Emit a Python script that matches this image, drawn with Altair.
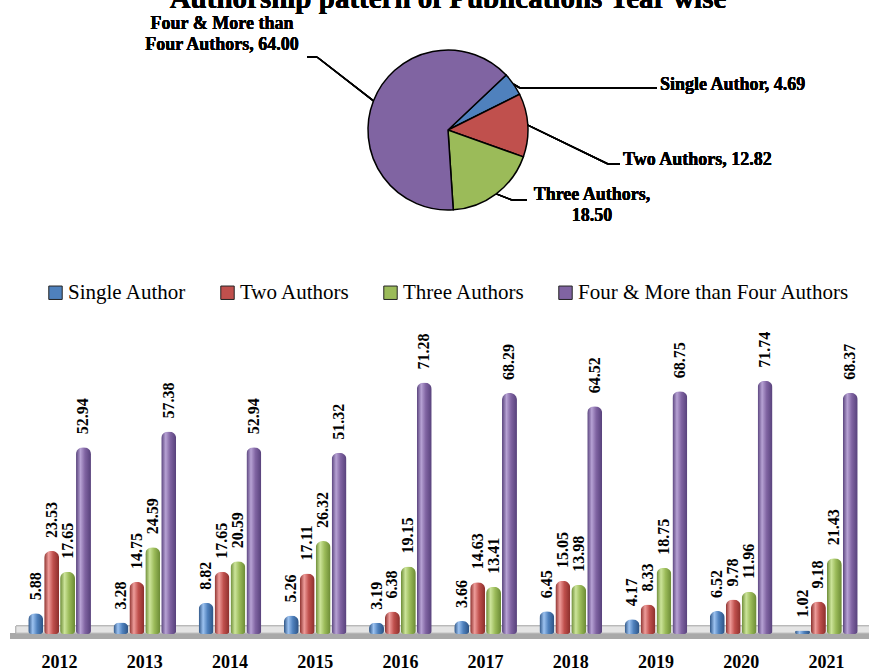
import math
import altair as alt
import pandas as pd

# ---- data -------------------------------------------------------------
years = ["2012", "2013", "2014", "2015", "2016", "2017", "2018", "2019", "2020", "2021"]
series = ["Single Author", "Two Authors", "Three Authors", "Four & More than Four Authors"]
single = [5.88, 3.28, 8.82, 5.26, 3.19, 3.66, 6.45, 4.17, 6.52, 1.02]
two = [23.53, 14.75, 17.65, 17.11, 6.38, 14.63, 15.05, 8.33, 9.78, 9.18]
three = [17.65, 24.59, 20.59, 26.32, 19.15, 13.41, 13.98, 18.75, 11.96, 21.43]
four = [52.94, 57.38, 52.94, 51.32, 71.28, 68.29, 64.52, 68.75, 71.74, 68.37]
overall = [4.69, 12.82, 18.50, 64.00]
colors = ["#4F81BD", "#C0504D", "#9BBB59", "#8064A2"]
dark = ["#2B5283", "#8A2E2B", "#6A8A34", "#56407A"]
light = ["#9CC2F0", "#EE9C9A", "#CCE49A", "#B7A2D4"]

# ---- layout -----------------------------------------------------------
PAD_L, PAD_T = 17, 334
W, H = 852, 300
FONT = "Times New Roman"

rows = []
for name, vals in zip(series, [single, two, three, four]):
    for yr, v in zip(years, vals):
        rows.append({"year": yr, "series": name, "value": v})
bars_df = pd.DataFrame(rows)

x_enc = alt.X("year:N", sort=years,
              scale=alt.Scale(domain=years, paddingInner=0, paddingOuter=0),
              axis=alt.Axis(title=None, domain=False, ticks=False, tickSize=0,
                            labelAngle=0, labelFont=FONT, labelFontWeight="bold",
                            labelFontSize=18, labelColor="black", labelPadding=19))
xo_enc = alt.XOffset("series:N",
                     scale=alt.Scale(domain=series, paddingInner=0.0625, paddingOuter=0.706))
y_enc = alt.Y("value:Q", scale=alt.Scale(domain=[0, 85]), axis=None)

# floor of the bar area
floor_top = alt.Chart(bars_df).mark_rect(fill="#E4E4E4", stroke="#B8B8B8", strokeWidth=0.8).encode(
    x=alt.value(-1), x2=alt.value(W + 2), y=alt.value(H - 8), y2=alt.value(H - 1))
floor_front = alt.Chart(bars_df).mark_rect(fill="#A9A9A9").encode(
    x=alt.value(-7), x2=alt.value(W + 2), y=alt.value(H - 1), y2=alt.value(H + 5))

bar_layers = []
for i, name in enumerate(series):
    grad = alt.Gradient(
        gradient="linear", x1=0, x2=1, y1=0, y2=0,
        stops=[alt.GradientStop(color=dark[i], offset=0),
               alt.GradientStop(color=light[i], offset=0.3),
               alt.GradientStop(color=colors[i], offset=0.6),
               alt.GradientStop(color=dark[i], offset=1)])
    bar_layers.append(
        alt.Chart(bars_df).transform_filter(alt.datum.series == name).mark_bar(
            fill=grad, cornerRadiusTopLeft=7, cornerRadiusTopRight=7,
            cornerRadiusBottomLeft=3, cornerRadiusBottomRight=3
        ).encode(x=x_enc, xOffset=xo_enc, y=y_enc)
    )

value_labels = alt.Chart(bars_df).mark_text(
    angle=270, align="left", baseline="middle", dx=13,
    font=FONT, fontWeight="bold", fontSize=16, color="black"
).encode(x=x_enc, xOffset=xo_enc, y=y_enc, text=alt.Text("value:Q", format=".2f"))

# ---- pie of overall shares ---------------------------------------------
CX, CY, R = 448, 130, 80          # page position of the pie
START = math.radians(46.6)
pie_df = pd.DataFrame({"series": series, "share": overall, "idx": list(range(4))})

pie = alt.Chart(pie_df).mark_arc(outerRadius=R, stroke="black", strokeWidth=1.5).encode(
    theta=alt.Theta("share:Q", stack=True,
                    scale=alt.Scale(range=[START, START + 2 * math.pi])),
    order=alt.Order("idx:Q"),
    fill=alt.Fill("series:N", scale=alt.Scale(domain=series, range=colors),
                  legend=alt.Legend(title=None, orient="none", direction="horizontal",
                                    columns=4, legendX=45 - PAD_L, legendY=282 - PAD_T,
                                    padding=0, symbolType="square", symbolSize=180,
                                    symbolStrokeColor="#222", symbolStrokeWidth=1,
                                    labelFont=FONT, labelFontSize=21, labelColor="black",
                                    labelOffset=2, columnPadding=30, labelLimit=400)),
    x=alt.value(CX - PAD_L), y=alt.value(CY - PAD_T),
)

# leader lines: from the rim at each slice's middle angle to its label
total = sum(overall)
mids = []
acc = 0.0
for v in overall:
    mids.append(START + 2 * math.pi * (acc + v / 2) / total)
    acc += v
rim = [(CX + R * math.sin(a), CY - R * math.cos(a)) for a in mids]
paths = [
    [rim[0], (520, 88), (657, 88)],
    [rim[1], (608, 164), (620, 164)],
    [rim[2], (512, 200), (527, 200)],
    [rim[3], (317, 57), (307, 57)],
]
leaders = []
for pts in paths:
    for (x1, y1), (x2, y2) in zip(pts[:-1], pts[1:]):
        leaders.append(
            alt.Chart(pie_df).mark_rule(color="black", strokeWidth=1.5).encode(
                x=alt.value(x1 - PAD_L), y=alt.value(y1 - PAD_T),
                x2=alt.value(x2 - PAD_L), y2=alt.value(y2 - PAD_T))
        )

lab = [f"{n}, {v:.2f}" for n, v in zip(series, overall)]
pie_texts = [
    ("Four & More than", 222, 24, "center"),
    ("Four Authors, " + f"{overall[3]:.2f}", 222, 45, "center"),
    (lab[0], 660, 85, "left"),
    (lab[1], 623, 160, "left"),
    ("Three Authors,", 592, 195, "center"),
    (f"{overall[2]:.2f}", 592, 216, "center"),
]
text_layers = []
for t, tx, ty, al in pie_texts:
    text_layers.append(
        alt.Chart(pie_df).mark_text(text=t, align=al, baseline="middle", font=FONT,
                                    fontWeight="bold", fontSize=18, color="black").encode(
            x=alt.value(tx - PAD_L), y=alt.value(ty - PAD_T))
    )

title = alt.Chart(pie_df).mark_text(
    text="Authorship pattern of Publications Year wise", align="center",
    baseline="alphabetic", font=FONT, fontWeight="bold", fontSize=29, color="black"
).encode(x=alt.value(448 - PAD_L), y=alt.value(8 - PAD_T))

chart = alt.layer(
    floor_front, floor_top, *bar_layers, value_labels,
    pie, *leaders, *text_layers, title
).properties(
    width=W, height=H,
    autosize=alt.AutoSizeParams(type="none"),
    padding={"left": PAD_L, "top": PAD_T, "right": 0, "bottom": 670 - PAD_T - H},
).configure_view(strokeWidth=0)

chart.save("out.html", embed_options={"renderer": "svg", "actions": False})
